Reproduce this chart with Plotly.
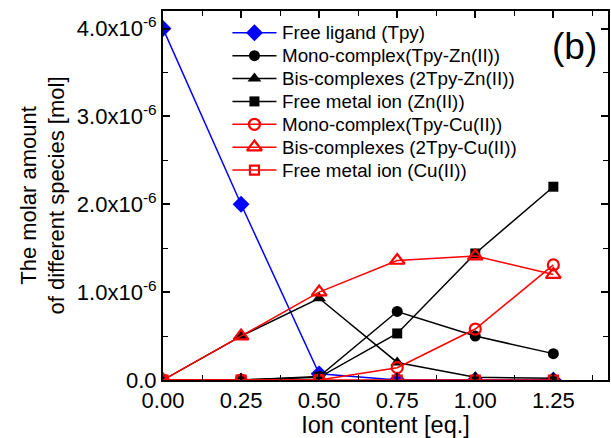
import plotly.graph_objects as go

# Ion content (equivalents) and molar amounts of each species (x10^-6 mol)
ion_content = [0.0, 0.25, 0.50, 0.75, 1.00, 1.25]

free_ligand_tpy = [4.00, 2.00, 0.07, 0.00, 0.00, 0.00]
mono_zn = [0.00, 0.00, 0.04, 0.78, 0.50, 0.30]
bis_zn = [0.00, 0.50, 0.93, 0.20, 0.03, 0.02]
free_zn = [0.00, 0.00, 0.03, 0.53, 1.44, 2.20]
mono_cu = [0.00, 0.00, 0.00, 0.14, 0.58, 1.31]
bis_cu = [0.00, 0.50, 1.00, 1.36, 1.41, 1.20]
free_cu = [0.00, 0.00, 0.00, 0.00, 0.00, 0.00]

series_names = [
    "Free ligand (Tpy)",
    "Mono-complex(Tpy-Zn(II))",
    "Bis-complexes (2Tpy-Zn(II))",
    "Free metal ion (Zn(II))",
    "Mono-complex(Tpy-Cu(II))",
    "Bis-complexes (2Tpy-Cu(II))",
    "Free metal ion (Cu(II))",
]

y_tick_vals = [0.0, 1.0e-6, 2.0e-6, 3.0e-6, 4.0e-6]
y_tick_text = ["0.0", "1.0x10<sup>-6</sup>", "2.0x10<sup>-6</sup>",
               "3.0x10<sup>-6</sup>", "4.0x10<sup>-6</sup>"]
x_tick_vals = [0.0, 0.25, 0.50, 0.75, 1.00, 1.25]
x_tick_text = ["0.00", "0.25", "0.50", "0.75", "1.00", "1.25"]

SCALE = 1e-6
FONT = "Liberation Sans, Arial, sans-serif"

styles = [
    dict(color="#0000FF", symbol="diamond", size=13, lw=0),
    dict(color="#000000", symbol="circle", size=11, lw=0),
    dict(color="#000000", symbol="triangle-up", size=12, lw=0),
    dict(color="#000000", symbol="square", size=10, lw=0),
    dict(color="#FF0000", symbol="circle-open", size=11, lw=2.2),
    dict(color="#FF0000", symbol="triangle-up-open", size=13, lw=2.2),
    dict(color="#FF0000", symbol="square-open", size=9, lw=2.2),
]

all_series = [free_ligand_tpy, mono_zn, bis_zn, free_zn, mono_cu, bis_cu, free_cu]

fig = go.Figure()
for name, vals, st in zip(series_names, all_series, styles):
    fig.add_trace(go.Scatter(
        x=ion_content,
        y=[v * SCALE for v in vals],
        name=name,
        mode="lines+markers",
        showlegend=False,
        line=dict(color=st["color"], width=1.5),
        marker=dict(symbol=st["symbol"], size=st["size"], color=st["color"],
                    line=dict(color=st["color"], width=st["lw"])),
    ))

# Compact key drawn on an invisible overlay axis spanning the plot area (0..1)
KEY_X0, KEY_X1 = 0.156, 0.255   # sample line ends
KEY_TEXT_X = 0.262
KEY_TOP = 0.941
KEY_STEP = 0.062
for i, (name, st) in enumerate(zip(series_names, styles)):
    ky = KEY_TOP - i * KEY_STEP
    fig.add_trace(go.Scatter(
        x=[KEY_X0, KEY_X1], y=[ky, ky], xaxis="x2", yaxis="y2",
        mode="lines", showlegend=False, hoverinfo="skip", cliponaxis=False,
        line=dict(color=st["color"], width=1.5),
    ))
    fig.add_trace(go.Scatter(
        x=[(KEY_X0 + KEY_X1) / 2], y=[ky], xaxis="x2", yaxis="y2",
        mode="markers", showlegend=False, hoverinfo="skip", cliponaxis=False,
        marker=dict(symbol=st["symbol"], size=st["size"], color=st["color"],
                    line=dict(color=st["color"], width=st["lw"])),
    ))
    fig.add_annotation(
        text=name, xref="x2", yref="y2", x=KEY_TEXT_X, y=ky,
        xanchor="left", yanchor="middle", showarrow=False,
        font=dict(family=FONT, size=18.8, color="black"),
    )

axis_common = dict(
    showline=True, linecolor="black", linewidth=2, mirror="ticks",
    ticks="inside", ticklen=7, tickwidth=1.5, tickcolor="black",
    showgrid=False, zeroline=False,
    tickfont=dict(family=FONT, size=22, color="black"),
)

fig.update_xaxes(
    range=[0, 1.425],
    tickvals=x_tick_vals, ticktext=x_tick_text,
    minor=dict(ticks="inside", ticklen=5, tickwidth=1.2, tickcolor="black", dtick=0.125, tick0=0),
    title=dict(text="Ion content [eq.]", font=dict(family=FONT, size=23.5, color="black"), standoff=7),
    **axis_common,
)
fig.update_yaxes(
    range=[0, 4.2e-6],
    tickvals=y_tick_vals, ticktext=y_tick_text,
    minor=dict(ticks="inside", ticklen=5, tickwidth=1.2, tickcolor="black", dtick=0.5e-6, tick0=0),
    title=dict(text="The molar amount<br>of different species [mol]",
               font=dict(family=FONT, size=22, color="black"), standoff=6),
    **axis_common,
)

fig.add_annotation(
    text="(b)", xref="paper", yref="paper", x=0.925, y=0.905,
    xanchor="center", yanchor="middle",
    showarrow=False, font=dict(family=FONT, size=37, color="black"),
)

fig.update_layout(
    width=611, height=438,
    margin=dict(l=163, r=1, t=11, b=58),
    paper_bgcolor="white", plot_bgcolor="white",
    showlegend=False,
    xaxis2=dict(range=[0, 1], overlaying="x", anchor="y2", visible=False, fixedrange=True),
    yaxis2=dict(range=[0, 1], overlaying="y", anchor="x2", visible=False, fixedrange=True),
)

fig.write_html("out.html")
